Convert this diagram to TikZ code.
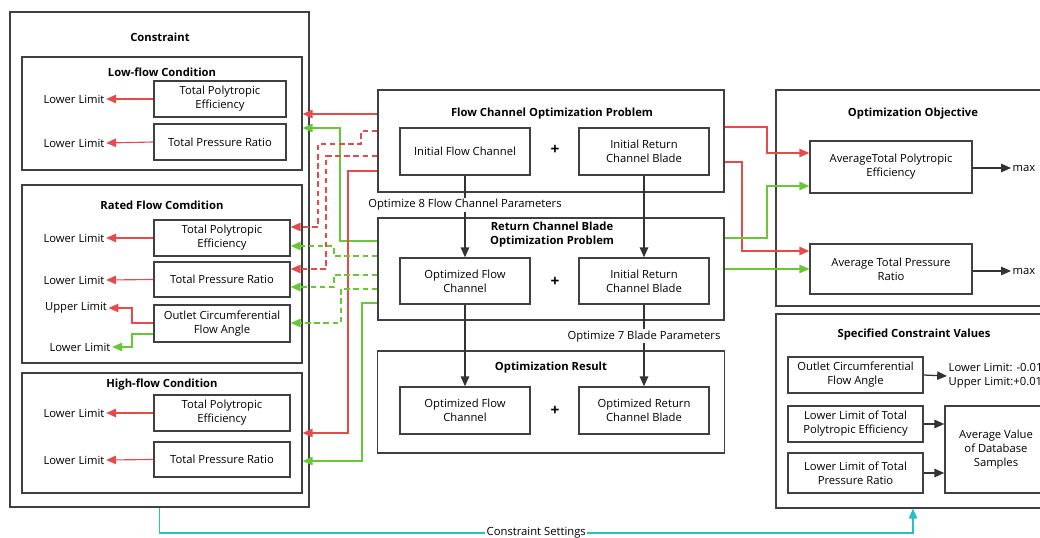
\documentclass[tikz,border=0pt]{standalone}
\usepackage{fontspec}
\setmainfont{Open Sans}
\usetikzlibrary{arrows.meta}
\definecolor{frameclr}{RGB}{64,64,64}
\definecolor{redclr}{RGB}{232,74,74}
\definecolor{grnclr}{RGB}{104,200,52}
\definecolor{cyanclr}{RGB}{40,192,200}
\definecolor{arrclr}{RGB}{51,51,51}
\tikzset{
	frame/.style 2 args={draw=frameclr, line width=1pt, minimum width=#1*0.025cm, minimum height=#2*0.025cm, inner sep=0pt},
	box/.style 2 args={draw=frameclr, line width=1pt, minimum width=#1*0.025cm, minimum height=#2*0.025cm, inner sep=1pt, align=center, font=\fontsize{8}{10}\selectfont},
	title/.style={font=\fontsize{8}{10}\selectfont\bfseries, align=center, inner sep=1pt},
	plus/.style={font=\fontsize{11}{11}\selectfont\bfseries, inner sep=1pt},
	txt/.style={font=\fontsize{8}{10}\selectfont, align=center, inner sep=1pt},
	tip/.style={-{Triangle[length=7pt,width=6pt]}},
	redl/.style={draw=redclr, line width=0.8pt, tip},
	grnl/.style={draw=grnclr, line width=0.8pt, tip},
	dsh/.style={dash pattern=on 4pt off 2.5pt},
	blk/.style={draw=arrclr, line width=0.9pt, tip},
	cyl/.style={draw=cyanclr, line width=1.2pt, tip},
}

\begin{document}
\begin{tikzpicture}[x=0.025cm, y=-0.025cm]
	\useasboundingbox (0,0) rectangle (1040,538);
	\clip (0,0) rectangle (1040,538);

	% constraint side
	\node[frame={299}{495}] (cons) at (159.5,259.5) {};
	\node[title] (consT) at (160,37) {Constraint};

	\node[frame={280}{113}] (low) at (162,113.5) {};
	\node[title] (lowT) at (162,72) {Low-flow Condition};
	\node[box={132}{36}] (lpe) at (220,99) {Total Polytropic\\Efficiency};
	\node[box={132}{36}] (lpr) at (220,142) {Total Pressure Ratio};
	\node[txt] (ll1) at (74,99) {Lower Limit};
	\node[txt] (ll2) at (74,143) {Lower Limit};
	\draw[redl] (lpe.west) -- (ll1.east);
	\draw[redl] (lpr.west) -- (ll2.east);

	\node[frame={280}{178}] (rated) at (162,274) {};
	\node[title] (ratedT) at (162,205) {Rated Flow Comdition};
	\node[box={136}{36}] (rpe) at (222,238) {Total Polytropic\\Efficiency};
	\node[box={136}{35}] (rpr) at (222,279.5) {Total Pressure Ratio};
	\node[box={136}{37}] (rca) at (222,323.5) {Outlet Circumferential\\Flow Angle};
	\node[txt] (ll3) at (74,238) {Lower Limit};
	\node[txt] (ll4) at (74,280) {Lower Limit};
	\node[txt] (ul1) at (76,308) {Upper Limit};
	\node[txt] (ll5) at (80,347) {Lower Limit};
	\draw[redl] (rpe.west) -- (ll3.east);
	\draw[redl] (rpr.west) -- (ll4.east);
	\draw[redl] (rca.west |- 0,323) -- (132,323) |- (ul1.east);
	\draw[grnl] (rca.west |- 0,334) -- (132,334) |- (ll5.east);

	\node[frame={280}{120}] (high) at (162,433) {};
	\node[title] (highT) at (162,385) {High-flow Condition};
	\node[box={136}{36}] (hpe) at (222,413) {Total Polytropic\\Efficiency};
	\node[box={136}{35}] (hpr) at (222,459.5) {Total Pressure Ratio};
	\node[txt] (ll6) at (74,413) {Lower Limit};
	\node[txt] (ll7) at (74,460) {Lower Limit};
	\draw[redl] (hpe.west) -- (ll6.east);
	\draw[redl] (hpr.west) -- (ll7.east);

	% middle column
	\node[frame={346}{102}] (fcop) at (551,141) {};
	\node[title] (fcopT) at (552,114) {Flow Channel Optimization Problem};
	\node[box={130}{47}] (ifc) at (465,151.5) {Initial Flow Channel};
	\node[plus] (plus1) at (555,150) {+};
	\node[box={130}{47}] (irb) at (644,151.5) {Initial Return\\Channel Blade};

	\node[frame={346}{102}] (rcb) at (551,269) {};
	\node[title] (rcbT) at (552,235) {Return Channel Blade\\Optimization Problem};
	\node[box={130}{46}] (ofc) at (465,281) {Optimized Flow\\Channel};
	\node[plus] (plus2) at (555,282) {+};
	\node[box={130}{46}] (irb2) at (644,281) {Initial Return\\Channel Blade};

	\node[frame={347}{102}] (res) at (551,402) {};
	\node[title] (resT) at (551,368) {Optimization Result};
	\node[box={130}{47}] (ofc2) at (465,410.5) {Optimized Flow\\Channel};
	\node[plus] (plus3) at (555,411) {+};
	\node[box={130}{47}] (orb) at (644,410.5) {Optimized Return\\Channel Blade};

	\draw[blk] (ifc.south) -- (ofc.north) node[txt, pos=0.36, fill=white] {Optimize 8 Flow Channel Parameters};
	\draw[blk] (irb.south) -- (irb2.north);
	\draw[blk] (ofc.south) -- (ofc2.north);
	\draw[blk] (irb2.south) -- (orb.north) node[txt, pos=0.385, fill=white] {Optimize 7 Blade Parameters};

	% links to constraints
	\draw[redl] (fcop.west |- 0,114) -- (low.east |- 0,114);
	\draw[grnl] (rcb.west |- 0,241) -- (340,241) |- (low.east |- 0,128);
	\draw[redl, dsh] (fcop.west |- 0,131) -- (361,131) |- (318,144) |- (rpe.east |- 0,227);
	\draw[redl, dsh] (fcop.west |- 0,156) -- (326,156) |- (rpr.east |- 0,269);
	\draw[redl] (fcop.west |- 0,171) -- (348,171) |- (high.east |- 0,433);
	\draw[grnl, dsh] (rcb.west |- 0,256) -- (334,256) |- (rpe.east |- 0,246);
	\draw[grnl, dsh] (rcb.west |- 0,275) -- (334,275) |- (rpr.east |- 0,287);
	\draw[grnl, dsh] (rcb.west |- 0,289) -- (341,289) |- (rca.east |- 0,323);
	\draw[grnl] (rcb.west |- 0,303) -- (362,303) |- (high.east |- 0,461);

	% objective side
	\node[frame={274}{216}] (obj) at (913,198) {};
	\node[title] (objT) at (913,114) {Optimization Objective};
	\node[box={162}{52}] (ape) at (891,167) {AverageTotal Polytropic\\Efficiency};
	\node[box={162}{50}] (apr) at (891,269) {Average Total Pressure\\Ratio};
	\node[txt] (max1) at (1024,168) {max};
	\node[txt] (max2) at (1024,271) {max};
	\draw[blk] (ape.east |- max1) -- (max1.west);
	\draw[blk] (apr.east |- max2) -- (max2.west);

	\draw[redl] (fcop.east |- 0,127) -- (767,127) |- (ape.west |- 0,153);
	\draw[redl] (fcop.east |- 0,162) -- (742,162) |- (apr.west |- 0,251);
	\draw[grnl] (rcb.east |- 0,238) -- (767,238) |- (ape.west |- 0,186);
	\draw[grnl] (rcb.east |- 0,269) -- (apr.west |- 0,269);

	% specified values
	\node[frame={274}{194}] (spec) at (913,411) {};
	\node[title] (specT) at (914,335) {Specified Constraint Values};
	\node[box={135}{36}] (sca) at (855.5,375) {Outlet Circumferential\\Flow Angle};
	\node[txt, align=left, anchor=west] (lim) at (947,376) {Lower Limit: -0.01\\Upper Limit:+0.01};
	\node[box={135}{36}] (slpe) at (855.5,424) {Lower Limit of Total\\Polytropic Efficiency};
	\node[box={135}{40}] (slpr) at (855.5,473) {Lower Limit of Total\\Pressure Ratio};
	\node[box={102}{87}] (avg) at (996,449.5) {Average Value\\of Database\\Samples};
	\draw[blk] (sca.east) -- (lim.west);
	\draw[blk] (slpe.east) -- (slpe.east -| avg.west);
	\draw[blk] (slpr.east) -- (slpr.east -| avg.west);

	\draw[cyl] (cons.south) -- (159.5,533) -| (spec.south) node[txt, pos=0.25, fill=white] {Constraint Settings};
\end{tikzpicture}
\end{document}
